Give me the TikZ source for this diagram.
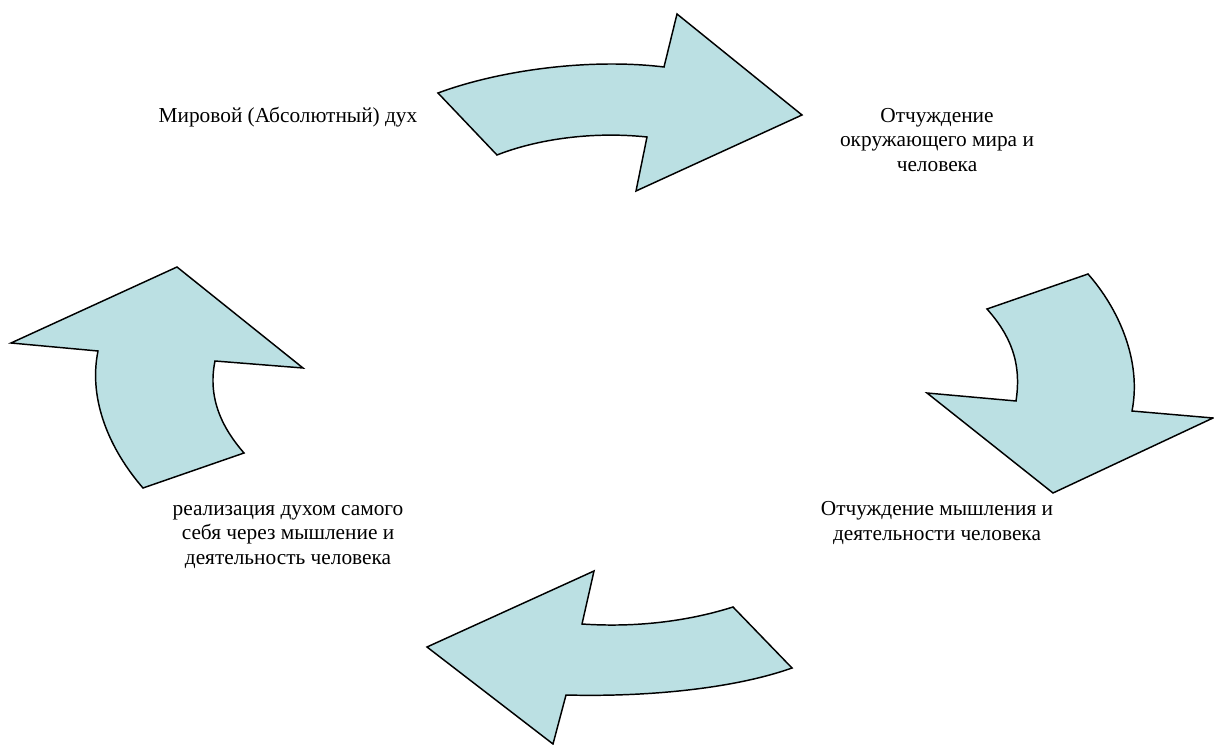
\documentclass[tikz,border=0pt]{standalone}
\usepackage{fontspec}
\setmainfont{Liberation Serif}
\definecolor{arrowfill}{HTML}{BBE0E3}
\tikzset{
  bigarrow/.style={fill=arrowfill, draw=black, line width=1.1pt, line join=miter},
  lbl/.style={align=center, font=\fontsize{16}{18.4}\selectfont, inner sep=0pt}
}
\begin{document}
\begin{tikzpicture}[x=0.75pt,y=-0.75pt]
\useasboundingbox (0,0) rectangle (1214,745);
% top arrow (pointing right)
\draw[bigarrow] (438,93) .. controls (500,70) and (590,58) .. (664,67)
  -- (677,14) -- (802,115) -- (636,191) -- (647,137)
  .. controls (590,131) and (535,140) .. (497,155) -- cycle;
% right arrow (pointing down)
\draw[bigarrow] (987,309) -- (1088,274) .. controls (1118,308) and (1142,360) .. (1132,411)
  -- (1213,418) -- (1053,493) -- (927,393) -- (1016,401)
  .. controls (1022,362) and (1010,335) .. (987,309) -- cycle;
% bottom arrow (pointing left)
\draw[bigarrow] (594,571) -- (582,624) .. controls (640,628) and (692,620) .. (733,607)
  -- (792,668) .. controls (730,690) and (640,697) .. (566,695)
  -- (553,744) -- (427,647) -- cycle;
% left arrow (pointing up)
\draw[bigarrow] (177,267) -- (303,368) -- (215,361)
  .. controls (207,400) and (224,430) .. (244,453) -- (143,488)
  .. controls (110,450) and (88,400) .. (98,351) -- (11,343) -- cycle;
% labels
\node[lbl] (spirit) at (288,117) {Мировой (Абсолютный) дух};
\node[lbl] (alienworld) at (937,140) {Отчуждение\\окружающего мира и\\человека};
\node[lbl] (alienthink) at (937,523) {Отчуждение мышления и\\деятельности человека};
\node[lbl] (realize) at (288,537) {реализация духом самого\\себя через мышление и\\деятельность человека};
\end{tikzpicture}
\end{document}
